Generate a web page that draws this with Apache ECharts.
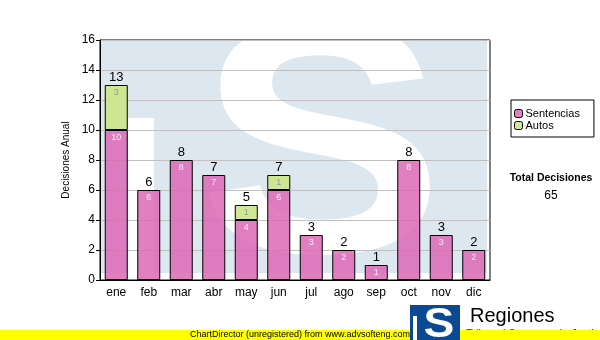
<!DOCTYPE html>
<html>
<head>
<meta charset="utf-8">
<script src="https://cdn.jsdelivr.net/npm/echarts@6/dist/echarts.min.js"></script>
<style>html,body{margin:0;padding:0;background:#fff;}#c{width:600px;height:340px;}</style>
</head>
<body>
<div id="c"></div>
<script>
const months = ['ene','feb','mar','abr','may','jun','jul','ago','sep','oct','nov','dic'];
const sentencias = [10,6,8,7,4,6,3,2,1,8,3,2];
const autos = [3,0,0,0,1,1,0,0,0,0,0,0];
const yTicks = [0,2,4,6,8,10,12,14,16];
const seriesNames = ['Sentencias','Autos'];
const totalTitle = 'Total Decisiones';
const yAxisTitle = 'Decisiones Anual';

const totals = months.map((m,i)=>sentencias[i]+autos[i]);
const grandTotal = totals.reduce((a,b)=>a+b,0);
const F = '"Liberation Sans", Arial, sans-serif';

const chart = echarts.init(document.getElementById('c'), null, {renderer:'canvas'});
chart.setOption({
  animation:false,
  backgroundColor:'#fff',
  grid:{left:100,right:110,top:40,bottom:60,show:true,borderColor:'#000',borderWidth:1,backgroundColor:'transparent'},
  legend:{
    orient:'vertical', left:511, top:100, data:seriesNames,
    itemWidth:8,itemHeight:8,itemGap:1,
    borderColor:'#000',borderWidth:1,padding:[8,14,6,3],
    textStyle:{fontFamily:F,fontSize:11,color:'#000',padding:[0,0,0,-2]},
    itemStyle:{borderColor:'#000',borderWidth:1}
  },
  xAxis:{
    type:'category', data:months,
    axisLine:{lineStyle:{color:'#000'}},
    axisTick:{alignWithLabel:true,length:3,lineStyle:{color:'#000'}},
    axisLabel:{fontFamily:F,fontSize:12,color:'#000',margin:7}
  },
  yAxis:{
    type:'value', min:yTicks[0], max:yTicks[yTicks.length-1], interval:yTicks[1]-yTicks[0],
    name:yAxisTitle, nameLocation:'middle', nameGap:24,
    nameTextStyle:{fontFamily:F,fontSize:10,color:'#000'},
    axisLine:{show:true,lineStyle:{color:'#000'}},
    axisTick:{show:true,length:4,lineStyle:{color:'#000'}},
    axisLabel:{fontFamily:F,fontSize:12,color:'#000',margin:5},
    splitLine:{lineStyle:{color:'#c0c0c0'}}
  },
  graphic:[
    {type:'rect',z:-10,silent:true,shape:{x:101,y:41,width:386,height:232},style:{fill:'#dde7f0'}},
    {type:'rect',z:-9,silent:true,shape:{x:128,y:118,width:26,height:155},style:{fill:'#fff'}},
    {type:'text',z:-9,silent:true,x:321,y:161,scaleX:1.12,scaleY:1,
      style:{text:'S',fontFamily:F,fontWeight:'bold',fontSize:330,fill:'#fff',align:'center',verticalAlign:'middle'}},
    {type:'text',z:80,silent:true,x:466,y:334,style:{text:'Tribunal Supremo de Justicia',fontFamily:F,fontSize:11,fill:'#333',align:'left',verticalAlign:'middle'}},
    {type:'rect',z:100,silent:true,shape:{x:0,y:330,width:600,height:10},style:{fill:'#ffff00'}},
    {type:'text',z:101,silent:true,x:300,y:335,style:{text:'ChartDirector (unregistered) from www.advsofteng.com',fontFamily:F,fontSize:9,fill:'#000',align:'center',verticalAlign:'middle'}},
    {type:'rect',z:110,silent:true,shape:{x:410,y:305,width:50,height:35},style:{fill:'#0b4a93'}},
    {type:'rect',z:111,silent:true,shape:{x:413,y:316,width:4,height:24},style:{fill:'#fff'}},
    {type:'text',z:111,silent:true,x:439,y:325,scaleX:1.1,style:{text:'S',fontFamily:F,fontWeight:'bold',fontSize:42,fill:'#fff',align:'center',verticalAlign:'middle'}},
    {type:'text',z:111,silent:true,x:470,y:316,style:{text:'Regiones',fontFamily:F,fontSize:20,fill:'#000',align:'left',verticalAlign:'middle'}},
    {type:'text',z:10,silent:true,x:551,y:178,style:{text:totalTitle,fontFamily:F,fontWeight:'bold',fontSize:10.5,fill:'#000',align:'center',verticalAlign:'middle'}},
    {type:'text',z:10,silent:true,x:551,y:196,style:{text:String(grandTotal),fontFamily:F,fontSize:12,fill:'#000',align:'center',verticalAlign:'middle'}}
  ],
  series:[
    {name:seriesNames[0],type:'bar',stack:'t',barWidth:23,data:sentencias,
      itemStyle:{color:'rgba(220,105,182,0.85)',borderColor:'#000',borderWidth:1},
      label:{show:true,position:'insideTop',distance:3,fontFamily:F,fontSize:9,color:'#f8e8f4'}},
    {name:seriesNames[1],type:'bar',stack:'t',barWidth:23,data:autos.map(v=>v>0?v:null),
      itemStyle:{color:'rgba(204,230,140,0.92)',borderColor:'#000',borderWidth:1},
      label:{show:true,position:'insideTop',distance:3,fontFamily:F,fontSize:9,color:'#999'}},
    {name:'total',type:'bar',stack:'t',barWidth:23,data:totals.map(()=>0),
      itemStyle:{color:'transparent',borderWidth:0},
      label:{show:true,position:'top',distance:1,fontFamily:F,fontSize:13,color:'#000',
        formatter:p=>String(totals[p.dataIndex])}}
  ]
});
</script>
</body>
</html>
